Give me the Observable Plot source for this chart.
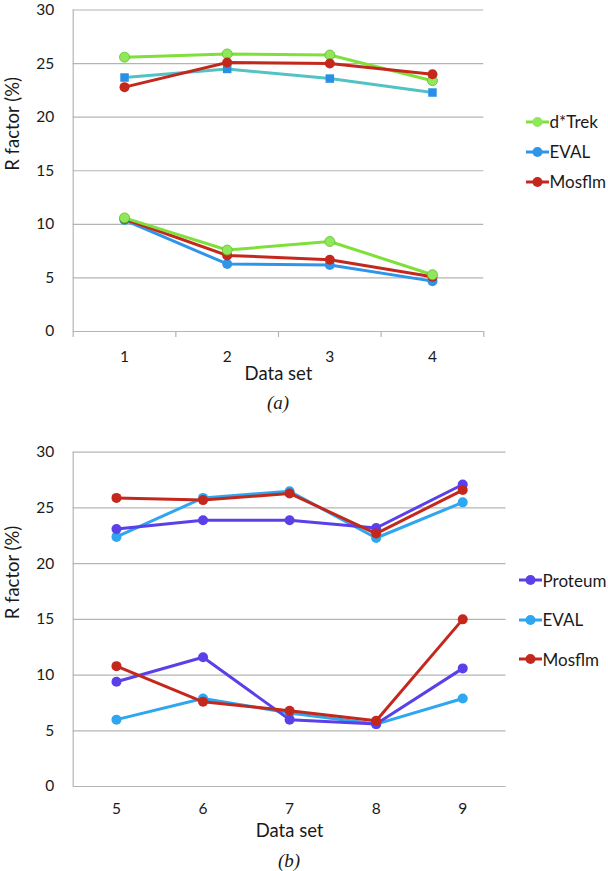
<!DOCTYPE html>
<html>
<head>
<meta charset="utf-8">
<script src="https://cdn.jsdelivr.net/npm/d3@7"></script>
<script src="https://cdn.jsdelivr.net/npm/@observablehq/plot@0.6"></script>
<style>
  body { margin: 0; background: #fff; }
  #wrap { position: relative; width: 608px; height: 871px; font-family: Lato, "Open Sans", sans-serif; color: #1a1a1a; }
  .panel { position: absolute; left: 0; }
  .leg { position: absolute; font-size: 17px; display: flex; align-items: center; white-space: nowrap; }
  .leg svg { margin-right: 1px; }
  .cap { position: absolute; font-family: "Liberation Serif", "DejaVu Serif", serif; font-style: italic; font-size: 19px; transform: translate(-50%, -50%); }
</style>
</head>
<body>
<div id="wrap"></div>
<script>
// ---------- data ----------
const yTicks = [0, 5, 10, 15, 20, 25, 30];

// Panel (a)
const setsA = [1, 2, 3, 4];
const boundsA = [0.5, 1.5, 2.5, 3.5, 4.5];
const dtrekHighA  = [25.6, 25.9, 25.8, 23.4];
const evalHighA   = [23.7, 24.5, 23.6, 22.3];
const mosflmHighA = [22.8, 25.1, 25.0, 24.0];
const dtrekLowA   = [10.6, 7.6, 8.4, 5.3];
const evalLowA    = [10.4, 6.3, 6.2, 4.7];
const mosflmLowA  = [10.5, 7.1, 6.7, 5.1];
const legendA = ["d*Trek", "EVAL", "Mosflm"];

// Panel (b)
const setsB = [5, 6, 7, 8, 9];
const proteumHighB = [23.1, 23.9, 23.9, 23.2, 27.1];
const evalHighB    = [22.4, 25.9, 26.5, 22.3, 25.5];
const mosflmHighB  = [25.9, 25.7, 26.3, 22.7, 26.6];
const proteumLowB  = [9.4, 11.6, 6.0, 5.6, 10.6];
const evalLowB     = [6.0, 7.9, 6.6, 5.6, 7.9];
const mosflmLowB   = [10.8, 7.6, 6.8, 5.9, 15.0];
const legendB = ["Proteum", "EVAL", "Mosflm"];

// ---------- styles ----------
const C = {
  green: "#7fe03c", greenDot: "#8fe85a", greenEdge: "#5cc02c",
  teal: "#52c2c4", sq: "#2a90e6",
  blueA: "#2f95ea",
  red: "#c4281c",
  purple: "#5a40e8",
  blueB: "#2ea6f0",
  grid: "#b4b4b4"
};

const zip = (xs, ys) => xs.map((x, i) => ({x, y: ys[i]}));

function series(xs, ys, stroke, fill, symbol = "circle", r = 5, edge = null) {
  const d = zip(xs, ys);
  return [
    Plot.line(d, {x: "x", y: "y", stroke, strokeWidth: 3, strokeLinejoin: "round"}),
    Plot.dot(d, {x: "x", y: "y", fill, symbol, r, stroke: edge || fill, strokeWidth: edge ? 0.8 : 0})
  ];
}

const tickFont = {fontSize: 15.5};
const titleFont = {fontSize: 18.5};

const wrap = document.getElementById("wrap");

// ---------- panel (a) ----------
const plotA = Plot.plot({
  width: 608, height: 420,
  marginTop: 9.5, marginBottom: 89, marginLeft: 72.7, marginRight: 124.7,
  x: {domain: [0.5, 4.5]},
  y: {domain: [0, 30]},
  style: {fontFamily: "Lato, 'Open Sans', sans-serif", fontSize: "15.5px", color: "#1a1a1a", background: "transparent"},
  marks: [
    Plot.gridY(yTicks, {stroke: C.grid, strokeOpacity: 1, strokeWidth: 1.2}),
    Plot.ruleX([0.5], {stroke: C.grid, strokeWidth: 1.2}),
    Plot.axisY(yTicks, {tickSize: 0, tickPadding: 19, label: null, ...tickFont}),
    Plot.axisX(boundsA, {tickSize: 6, tickFormat: () => "", label: null, stroke: C.grid, strokeWidth: 1.2}),
    Plot.axisX(setsA, {tickSize: 0, tickPadding: 19, label: null, ...tickFont}),
    Plot.text(["Data set"], {text: d => d, frameAnchor: "bottom", dy: 48, ...titleFont}),
    Plot.text(["R factor (%)"], {text: d => d, frameAnchor: "left", rotate: -90, dx: -60, ...titleFont}),
    ...series(setsA, evalHighA, C.teal, C.sq, "square", 4.8),
    ...series(setsA, dtrekHighA, C.green, C.greenDot, "circle", 5, C.greenEdge),
    ...series(setsA, mosflmHighA, C.red, C.red),
    ...series(setsA, evalLowA, C.blueA, C.blueA),
    ...series(setsA, mosflmLowA, C.red, C.red),
    ...series(setsA, dtrekLowA, C.green, C.greenDot, "circle", 5, C.greenEdge)
  ]
});
plotA.classList.add("panel");
plotA.style.top = "0px";
wrap.appendChild(plotA);

// ---------- panel (b) ----------
const plotB = Plot.plot({
  width: 608, height: 451,
  marginTop: 31.7, marginBottom: 85, marginLeft: 72.7, marginRight: 102.5,
  x: {domain: [4.5, 9.5]},
  y: {domain: [0, 30]},
  style: {fontFamily: "Lato, 'Open Sans', sans-serif", fontSize: "15.5px", color: "#1a1a1a", background: "transparent"},
  marks: [
    Plot.gridY(yTicks, {stroke: C.grid, strokeOpacity: 1, strokeWidth: 1.2}),
    Plot.ruleX([4.5], {stroke: C.grid, strokeWidth: 1.2}),
    Plot.axisY(yTicks, {tickSize: 0, tickPadding: 19, label: null, ...tickFont}),
    Plot.axisX(setsB, {tickSize: 0, tickPadding: 16, label: null, ...tickFont}),
    Plot.text(["Data set"], {text: d => d, frameAnchor: "bottom", dy: 50, ...titleFont}),
    Plot.text(["R factor (%)"], {text: d => d, frameAnchor: "left", rotate: -90, dx: -60, ...titleFont}),
    ...series(setsB, evalHighB, C.blueB, C.blueB),
    ...series(setsB, proteumHighB, C.purple, C.purple),
    ...series(setsB, mosflmHighB, C.red, C.red),
    ...series(setsB, evalLowB, C.blueB, C.blueB),
    ...series(setsB, proteumLowB, C.purple, C.purple),
    ...series(setsB, mosflmLowB, C.red, C.red)
  ]
});
plotB.classList.add("panel");
plotB.style.top = "420px";
wrap.appendChild(plotB);

// ---------- legends ----------
function legendItem(label, color, fill, left, cy) {
  const div = document.createElement("div");
  div.className = "leg";
  div.style.left = left + "px";
  div.style.top = (cy - 11) + "px";
  div.style.height = "22px";
  div.innerHTML = `<svg width="23" height="14"><line x1="0" y1="7" x2="23" y2="7" stroke="${color}" stroke-width="3"/><circle cx="11.5" cy="7" r="5" fill="${fill}"/></svg><span>${label}</span>`;
  wrap.appendChild(div);
}
const legColorsA = [[C.green, C.greenDot], [C.blueA, C.blueA], [C.red, C.red]];
legendA.forEach((l, i) => legendItem(l, legColorsA[i][0], legColorsA[i][1], 525.5, 121.7 + i * 30));
const legColorsB = [[C.purple, C.purple], [C.blueB, C.blueB], [C.red, C.red]];
legendB.forEach((l, i) => legendItem(l, legColorsB[i][0], legColorsB[i][1], 518.5, 580 + i * 39.5));

// ---------- captions ----------
function caption(t, cx, cy) {
  const d = document.createElement("div");
  d.className = "cap";
  d.style.left = cx + "px";
  d.style.top = cy + "px";
  d.textContent = t;
  wrap.appendChild(d);
}
caption("(a)", 278, 403);
caption("(b)", 289, 861);
</script>
</body>
</html>
